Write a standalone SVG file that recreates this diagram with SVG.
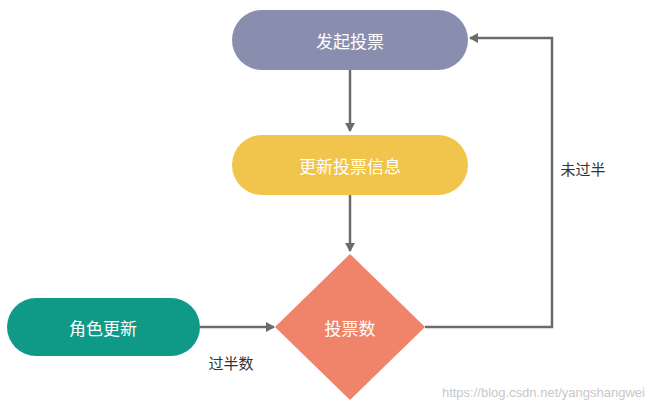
<svg xmlns="http://www.w3.org/2000/svg" width="658" height="415" viewBox="0 0 658 415">
<style>
.t{font-family:"Noto Sans CJK SC","Noto Sans",sans-serif;font-size:17px;fill:#fff;text-anchor:middle;dominant-baseline:central}
.l{font-family:"Noto Sans CJK SC","Noto Sans",sans-serif;font-size:15px;fill:#333;text-anchor:middle;dominant-baseline:central}
.c{fill:none;stroke:#6b6b6b;stroke-width:2.5}
</style>
<defs><marker id="a" markerWidth="10" markerHeight="10" refX="8" refY="5" orient="auto" markerUnits="userSpaceOnUse"><path d="M0,0 L9,5 L0,10 z" fill="#6b6b6b"/></marker></defs>
<rect width="658" height="415" fill="#fff"/>
<g id="connectors">
<path class="c" d="M350,70 V131" marker-end="url(#a)"/>
<path class="c" d="M350,195 V251" marker-end="url(#a)"/>
<path class="c" d="M200,327 H274" marker-end="url(#a)"/>
<path class="c" d="M425,327 H552 V38 H470" marker-end="url(#a)"/>
</g>
<g id="n1"><rect x="232" y="10" width="236" height="60" rx="30" fill="#8a8eae"/><text class="t" x="350" y="40">发起投票</text></g>
<g id="n2"><rect x="232" y="135" width="236" height="60" rx="30" fill="#f1c44b"/><text class="t" x="350" y="165">更新投票信息</text></g>
<g id="n3"><path d="M350,254 L425,327 L350,400 L275,327 Z" fill="#f0846a"/><text class="t" x="350" y="327">投票数</text></g>
<g id="n4"><rect x="7" y="298" width="193" height="58" rx="29" fill="#0e9a86"/><text class="t" x="103" y="327">角色更新</text></g>
<text class="l" x="583" y="168">未过半</text>
<text class="l" x="231" y="362">过半数</text>
<text x="645" y="397" font-family="Liberation Sans,sans-serif" font-size="13" fill="#c8c8c8" text-anchor="end">https://blog.csdn.net/yangshangwei</text>
</svg>
